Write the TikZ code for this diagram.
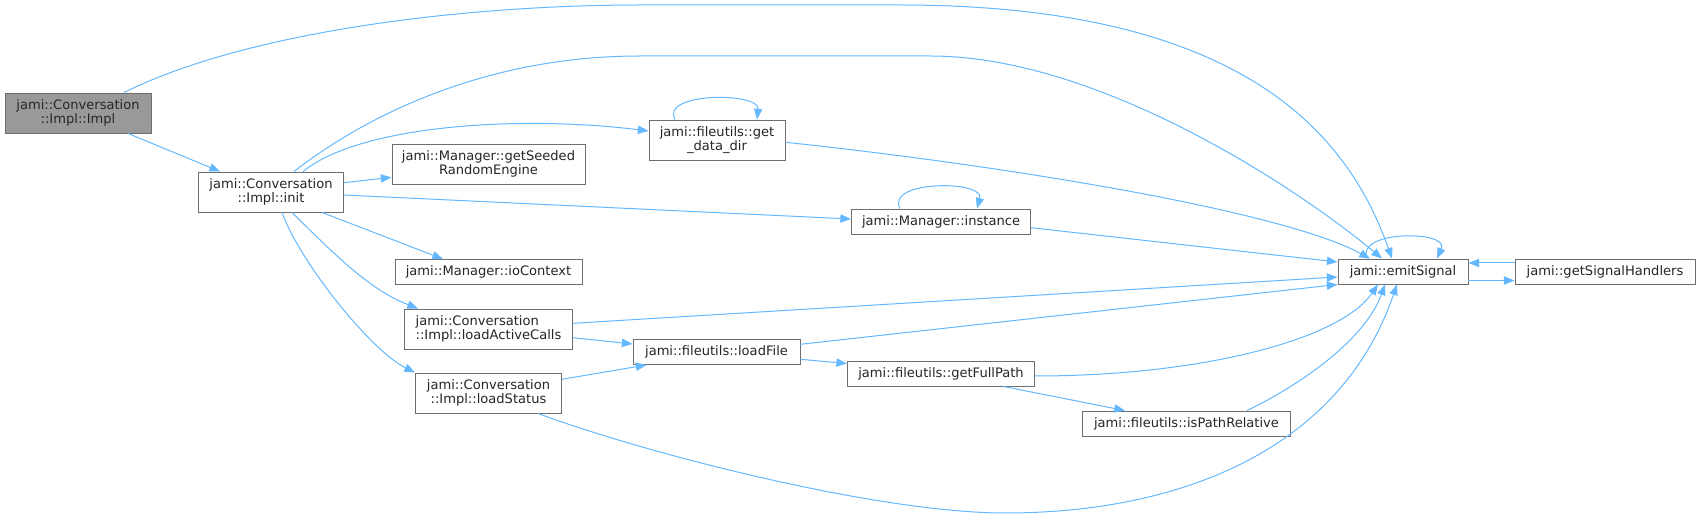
\documentclass[tikz,border=0pt]{standalone}
\usepackage{fontspec}
\setmainfont{DejaVu Sans}
\usetikzlibrary{arrows.meta, positioning, calc}
\definecolor{edgeblue}{HTML}{63B8FF}
\definecolor{boxgray}{HTML}{6E6E6E}
\definecolor{rootgray}{HTML}{999999}
\tikzset{
    func/.style={
        rectangle, draw=boxgray, line width=0.7pt,
        minimum height=18.75pt, inner sep=2pt,
        fill=white, align=center, text=black!85,
        font=\fontsize{9.8}{10.8}\selectfont
    },
    funcroot/.style={func, fill=rootgray},
    twoline/.style={minimum height=30pt},
    call/.style={
        draw=edgeblue, line width=0.75pt,
        -{Triangle[length=8pt, width=6.2pt]}
    }
}

\begin{document}
\begin{tikzpicture}[x=0.75pt, y=-0.75pt]
\useasboundingbox (0,0) rectangle (1700,520);

% Column 1: Caller
\node[funcroot, twoline, minimum width=109.5pt] (impl) at (78,113) {jami::Conversation\\::Impl::Impl};

% Column 2: init
\node[func, twoline, minimum width=108.75pt] (init) at (271,192) {jami::Conversation\\::Impl::init};

% Column 3: Direct callees
\node[func, twoline, minimum width=144.75pt] (seeded) at (488.5,164) {jami::Manager::getSeeded\\RandomEngine};
\node[func, minimum width=140.25pt] (iocontext) at (488.5,272) {jami::Manager::ioContext};
\node[func, twoline, minimum width=126pt, align=left] (activecalls) at (488.5,329) {jami::Conversation\\::Impl::loadActiveCalls};
\node[func, twoline, minimum width=109.5pt] (loadstatus) at (488.5,393) {jami::Conversation\\::Impl::loadStatus};

% Column 4: File utils
\node[func, twoline, minimum width=102pt] (datadir) at (717,140) {jami::fileutils::get\\\_data\_dir};
\node[func, minimum width=125.25pt] (loadfile) at (716.5,352) {jami::fileutils::loadFile};

% Column 5: Manager and paths
\node[func, minimum width=134.25pt] (instance) at (941,221.5) {jami::Manager::instance};
\node[func, minimum width=140.25pt] (fullpath) at (941,373.5) {jami::fileutils::getFullPath};
\node[func, minimum width=156pt] (pathrel) at (1186.5,423.5) {jami::fileutils::isPathRelative};

% Column 6: Signals
\node[func, minimum width=97.5pt] (emit) at (1403,271.5) {jami::emitSignal};
\node[func, minimum width=135pt] (handlers) at (1605,271.5) {jami::getSignalHandlers};

% Calls from the caller
\draw[call] ($(impl.south)+(50,0)$) -- ($(init.north)+(-51,0)$);
\draw[call] ($(impl.north)+(46,0)$) .. controls (250,30) and (470,5) .. (640,5) -- (900,5)
    .. controls (1250,5) and (1350,140) .. ($(emit.north)+(-11,0)$);

% Calls from init
\draw[call] ($(init.north)+(23,0)$) .. controls (360,120) and (480,56) .. (640,56) -- (930,56)
    .. controls (1100,56) and (1300,190) .. ($(emit.north)+(-21,0)$);
\draw[call] ($(init.north)+(32,0)$) .. controls (360,125) and (520,115) .. ($(datadir.west)+(0,-9)$);
\draw[call] ($(init.east)+(0,-9.3)$) -- ($(seeded.west)+(0,13.3)$);
\draw[call] ($(init.east)+(0,3)$) -- ($(instance.west)+(0,-2.5)$);
\draw[call] ($(init.south)+(51,0)$) -- ($(iocontext.north)+(-45.5,0)$);
\draw[call] ($(init.south)+(21,0)$) .. controls (335,255) and (370,290) .. ($(activecalls.north)+(-70.5,0)$);
\draw[call] ($(init.south)+(11,0)$) .. controls (300,262) and (370,350) .. ($(loadstatus.north)+(-73.5,0)$);

% Recursive calls
\draw[call] ($(datadir.north)+(-42,0)$) .. controls (660,92) and (760,92) .. ($(datadir.north)+(40,0)$);
\draw[call] ($(instance.north)+(-41,0)$) .. controls (885,180) and (985,180) .. ($(instance.north)+(36,0)$);
\draw[call] ($(emit.north)+(-36,0)$) .. controls (1355,230) and (1450,230) .. ($(emit.north)+(34,0)$);

% Loading chain
\draw[call] ($(activecalls.east)+(0,8.7)$) -- ($(loadfile.west)+(0,-8)$);
\draw[call] ($(loadstatus.east)+(0,-13.7)$) -- ($(loadfile.south)+(-70,0)$);
\draw[call] ($(loadfile.east)+(0,7.3)$) -- ($(fullpath.west)+(0,-10)$);
\draw[call] ($(fullpath.south)+(62.3,0)$) -- ($(pathrel.north)+(-61.5,0)$);

% Calls into emitSignal
\draw[call] ($(datadir.east)+(0,2.3)$) .. controls (1000,165) and (1280,210) .. ($(emit.north)+(-33,0)$);
\draw[call] ($(instance.east)+(0,6.2)$) -- ($(emit.west)+(0,-9.5)$);
\draw[call] ($(activecalls.east)+(0,-5.7)$) -- ($(emit.west)+(0,5.5)$);
\draw[call] ($(loadfile.east)+(0,-7.7)$) -- ($(emit.west)+(0,13)$);
\draw[call] ($(fullpath.east)+(0,2.5)$) .. controls (1200,376) and (1340,340) .. ($(emit.south)+(-25,0)$);
\draw[call] ($(pathrel.north)+(60.5,0)$) .. controls (1300,385) and (1365,340) .. ($(emit.south)+(-18,0)$);
\draw[call] ($(loadstatus.south)+(49.5,0)$) .. controls (650,455) and (880,513) .. (1005,513)
    .. controls (1180,513) and (1340,450) .. ($(emit.south)+(-6,0)$);

% emitSignal and handlers
\draw[call] ($(emit.east)+(0,9)$) -- ($(handlers.west)+(0,9)$);
\draw[call] ($(handlers.west)+(0,-8.5)$) -- ($(emit.east)+(0,-8.5)$);

\end{tikzpicture}
\end{document}
